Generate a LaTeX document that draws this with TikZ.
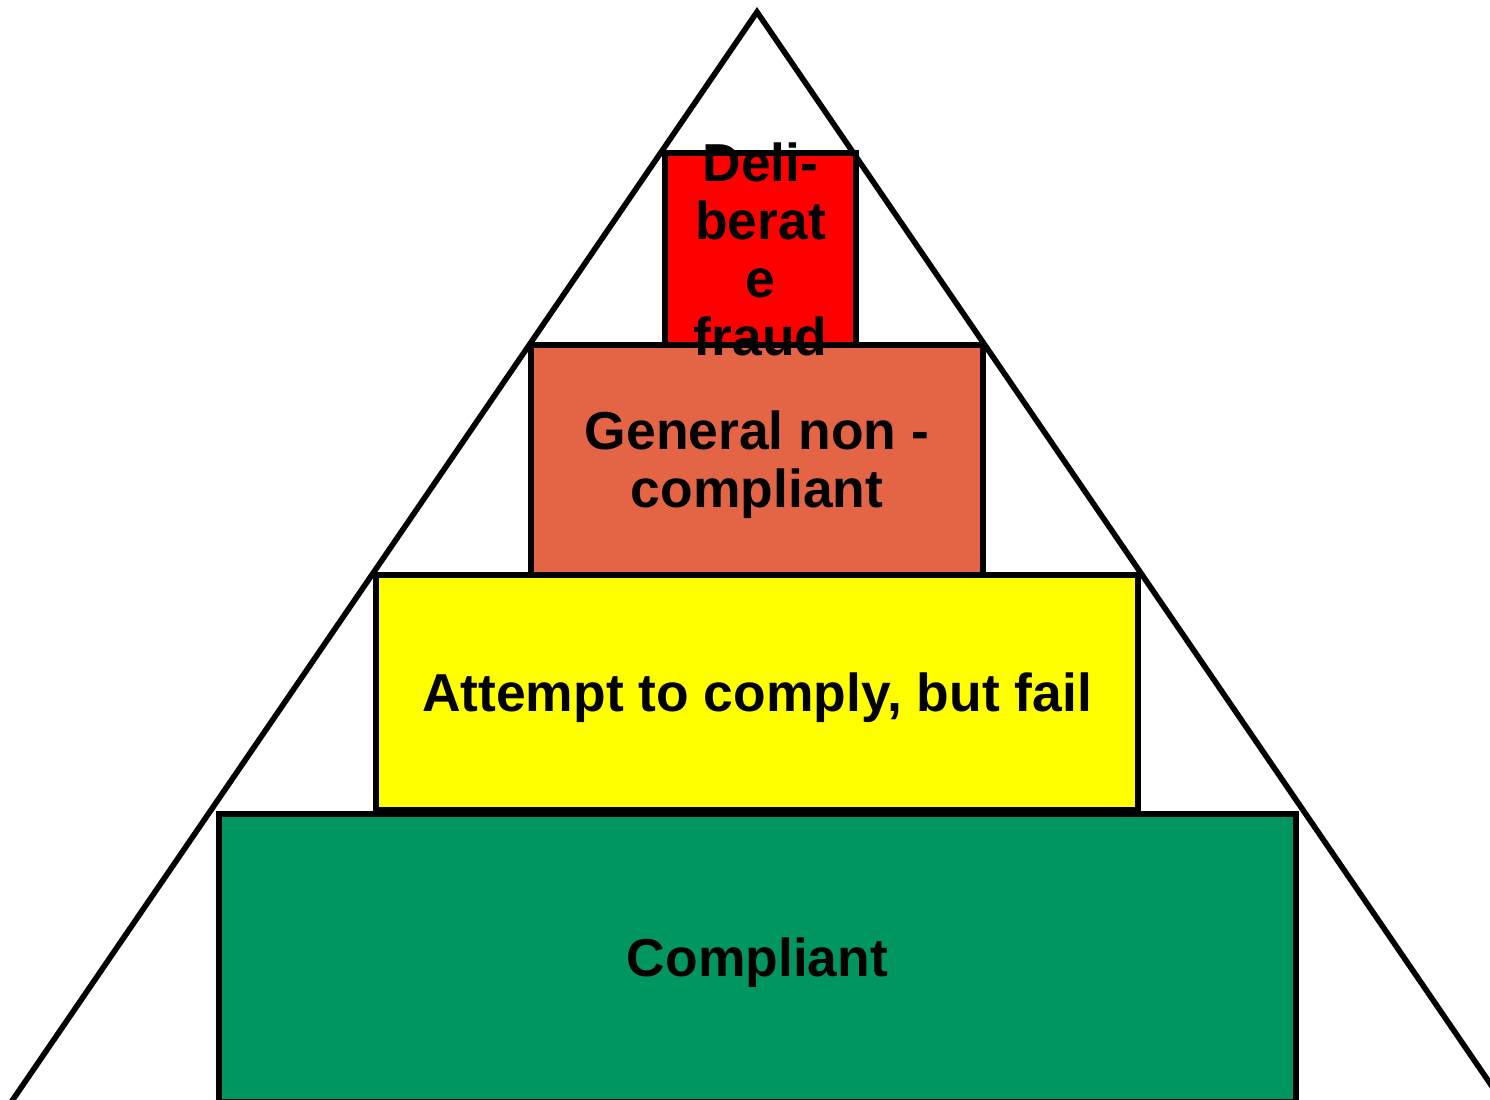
\documentclass[tikz,border=0pt]{standalone}
\usepackage{fontspec}
\setmainfont{Liberation Sans}
\usepackage{xcolor}
\usepackage{tikz}
\usetikzlibrary{positioning,calc}

\definecolor{fraudred}{HTML}{FF0000}
\definecolor{noncomp}{HTML}{E36545}
\definecolor{attempt}{HTML}{FFFF00}
\definecolor{compgreen}{HTML}{009660}

\tikzset{
    tier/.style={draw, line width=1.6pt, rectangle, inner sep=0pt},
    tiertext/.style={inner sep=0pt, align=center,
        font=\fontsize{15.2}{16.5}\selectfont\bfseries}
}

\begin{document}
\begin{tikzpicture}
    \useasboundingbox (0,0) rectangle (14.9,10.99);
    \clip (0,0) rectangle (14.9,10.99);

    % Pyramid outline
    \coordinate (apex) at (7.57,10.87);
    \coordinate (baseL) at ($(apex)+(-8.21,-12.0)$);
    \coordinate (baseR) at ($(apex)+(8.21,-12.0)$);
    \draw[line width=1.6pt] (baseL) -- (apex) -- (baseR);

    % Tiers, bottom to top
    \node[tier, fill=compgreen, minimum width=10.77cm, minimum height=2.88cm] (compliant) at (7.575,1.41) {};
    \node[tier, fill=attempt, minimum width=7.62cm, minimum height=2.35cm] (attempt) at (7.57,4.065) {};
    \node[tier, fill=noncomp, minimum width=4.52cm, minimum height=2.30cm] (general) at (7.57,6.39) {};
    \node[tier, fill=fraudred, minimum width=1.91cm, minimum height=1.92cm] (fraud) at (7.605,8.50) {};

    % Labels
    \node[tiertext, yshift=-0.05cm] (complianttext) at (compliant.center) {Compliant};
    \node[tiertext, yshift=-0.05cm] (attempttext) at (attempt.center) {Attempt to comply, but fail};
    \node[tiertext, yshift=-0.05cm] (generaltext) at (general.center) {General non -\\compliant};
    \node[tiertext] (fraudtext) at (fraud.center) {Deli-\\berat\\e\\fraud};
\end{tikzpicture}
\end{document}
